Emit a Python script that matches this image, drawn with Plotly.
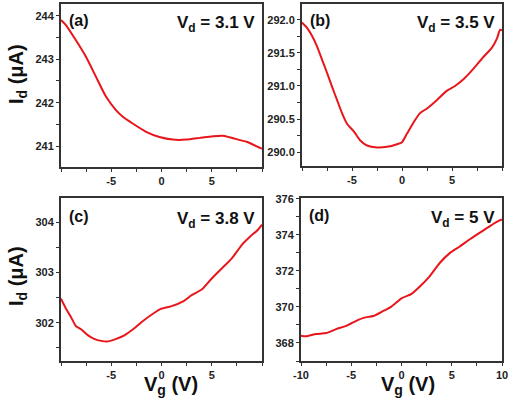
import numpy as np
import plotly.graph_objects as go

# ---- data ----
vg_a = [-10.0, -9.53, -8.53, -7.53, -6.53, -5.53, -4.53, -3.87, -2.87, -1.53, -0.2, 1.13, 2.47, 3.8, 5.13, 6.13, 7.13, 8.47, 9.8, 10.0]
id_a = [243.90, 243.79, 243.44, 243.06, 242.60, 242.14, 241.83, 241.68, 241.52, 241.33, 241.21, 241.15, 241.15, 241.19, 241.23, 241.24, 241.18, 241.10, 240.96, 240.94]

vg_b = [-10.0, -9.5, -9.0, -8.5, -8.0, -7.5, -7.0, -6.5, -6.0, -5.5, -4.8, -4.2, -3.5, -2.5, -1.5, -0.5, 0.0, 0.5, 1.2, 1.8, 2.5, 3.5, 4.5, 5.3, 6.2, 7.2, 8.2, 9.0, 9.5, 9.8, 10.0]
id_b = [291.96, 291.88, 291.76, 291.60, 291.40, 291.20, 290.99, 290.79, 290.59, 290.43, 290.31, 290.18, 290.10, 290.07, 290.08, 290.12, 290.15, 290.28, 290.46, 290.59, 290.66, 290.79, 290.93, 291.00, 291.11, 291.27, 291.45, 291.58, 291.72, 291.85, 291.84]

vg_c = [-10.0, -9.5, -9.0, -8.5, -8.0, -7.3, -6.7, -6.0, -5.3, -4.5, -3.7, -2.7, -2.0, -1.0, 0.0, 1.0, 2.2, 3.0, 4.0, 5.0, 6.0, 7.0, 8.0, 8.8, 9.6, 10.0]
id_c = [302.48, 302.28, 302.11, 301.93, 301.87, 301.75, 301.68, 301.64, 301.63, 301.68, 301.75, 301.89, 302.01, 302.16, 302.28, 302.33, 302.43, 302.55, 302.66, 302.88, 303.08, 303.28, 303.55, 303.71, 303.85, 303.95]

vg_d = [-10.0, -9.5, -8.5, -7.5, -6.5, -5.5, -4.5, -3.7, -2.8, -1.8, -1.0, 0.0, 1.0, 1.8, 2.8, 3.8, 4.8, 5.8, 6.8, 7.8, 8.8, 9.7, 10.0]
id_d = [368.40, 368.37, 368.50, 368.55, 368.77, 368.95, 369.23, 369.41, 369.50, 369.78, 370.02, 370.48, 370.73, 371.12, 371.70, 372.44, 372.99, 373.36, 373.76, 374.13, 374.49, 374.79, 374.86]

panel_labels = ["(a)", "(b)", "(c)", "(d)"]
vd_labels = ["V<sub>d</sub> = 3.1 V", "V<sub>d</sub> = 3.5 V", "V<sub>d</sub> = 3.8 V", "V<sub>d</sub> = 5 V"]
x_labelled = [[-5, 0, 5], [-5, 0, 5], [-5, 0, 5], [-10, -5, 0, 5, 10]]
y_labelled = [[241, 242, 243, 244], [290.0, 290.5, 291.0, 291.5, 292.0], [302, 303, 304], [368, 370, 372, 374, 376]]
y_fmt = ["{:.0f}", "{:.1f}", "{:.0f}", "{:.0f}"]
x_step = 2.5
y_step = [0.5, 0.25, 0.5, 1.0]
x_range = [-10, 10]
y_ranges = [[240.52, 244.27], [289.79, 292.24], [301.24, 304.48], [367.0, 376.05]]

W, H = 509, 399
FONT = "Liberation Sans, Arial, sans-serif"
RED = "#e8161b"
AX = "#333333"

# pixel boxes: (left, right, top, bottom)
boxes = [(61, 262, 4, 167), (302, 502, 4, 166), (61, 262, 198, 361), (301, 502, 198, 361)]
label_y = [20, 20, 216, 215]
vd_y = [24, 24, 220, 219]


def tick_grid(lo, hi, step, labelled, fmt):
    start = np.ceil(lo / step - 1e-9) * step
    vals = [round(float(v), 4) for v in np.arange(start, hi + 1e-9, step)]
    lab = set(round(float(v), 4) for v in labelled)
    texts = ["<b>" + fmt.format(v) + "</b>" if v in lab else "" for v in vals]
    return vals, texts


fig = go.Figure()
series = [(vg_a, id_a), (vg_b, id_b), (vg_c, id_c), (vg_d, id_d)]
for i, (xs, ys) in enumerate(series):
    n = "" if i == 0 else str(i + 1)
    fig.add_trace(go.Scatter(x=xs, y=ys, mode="lines", line=dict(color=RED, width=2, shape="spline", smoothing=0.6),
                             xaxis="x" + n, yaxis="y" + n, showlegend=False, hoverinfo="skip"))
    l, r, t, b = boxes[i]
    xd = [l / W, r / W]
    yd = [1 - b / H, 1 - t / H]
    xv, xt = tick_grid(x_range[0], x_range[1], x_step, x_labelled[i], "{:.0f}")
    yv, yt = tick_grid(y_ranges[i][0], y_ranges[i][1], y_step[i], y_labelled[i], y_fmt[i])
    fig.layout["xaxis" + n] = go.layout.XAxis(
        domain=xd, range=x_range, anchor="y" + n,
        showline=True, linecolor=AX, linewidth=2, mirror=True,
        ticks="outside", ticklen=3, tickwidth=1, tickcolor=AX,
        showgrid=False, zeroline=False,
        tickfont=dict(family=FONT, size=11, color="#222"),
        tickmode="array", tickvals=xv, ticktext=xt)
    fig.layout["yaxis" + n] = go.layout.YAxis(
        domain=yd, range=y_ranges[i], anchor="x" + n,
        showline=True, linecolor=AX, linewidth=2, mirror=True,
        ticks="outside", ticklen=3, tickwidth=1, tickcolor=AX,
        showgrid=False, zeroline=False,
        tickfont=dict(family=FONT, size=11, color="#222"),
        tickmode="array", tickvals=yv, ticktext=yt)
    fig.add_annotation(text="<b>" + panel_labels[i] + "</b>", xref="paper", yref="paper",
                       x=(l + 6) / W, y=1 - label_y[i] / H,
                       xanchor="left", yanchor="middle", showarrow=False,
                       font=dict(family=FONT, size=16, color="#111"))
    fig.add_annotation(text="<b>" + vd_labels[i] + "</b>", xref="paper", yref="paper",
                       x=(r - 5) / W, y=1 - vd_y[i] / H, xanchor="right", yanchor="middle", showarrow=False,
                       font=dict(family=FONT, size=17, color="#111"))

# axis titles
for yc in [74, 276]:
    fig.add_annotation(text="<b>I<sub>d</sub> (μA)</b>", xref="paper", yref="paper", x=17 / W, y=1 - yc / H,
                       xanchor="center", yanchor="middle", textangle=-90, showarrow=False,
                       font=dict(family=FONT, size=20, color="#111"))
for xc in [171, 408]:
    fig.add_annotation(text="<b>V<sub>g</sub> (V)</b>", xref="paper", yref="paper", x=xc / W, y=1 - 385 / H,
                       xanchor="center", yanchor="middle", showarrow=False,
                       font=dict(family=FONT, size=20, color="#111"))

fig.update_layout(width=W, height=H, margin=dict(l=0, r=0, t=0, b=0, autoexpand=False),
                  paper_bgcolor="white", plot_bgcolor="white")
fig.write_html("out.html", config={"displayModeBar": False},
               post_script="document.body.style.margin='0';document.body.style.overflow='hidden';"
                           "document.documentElement.style.overflow='hidden';")
